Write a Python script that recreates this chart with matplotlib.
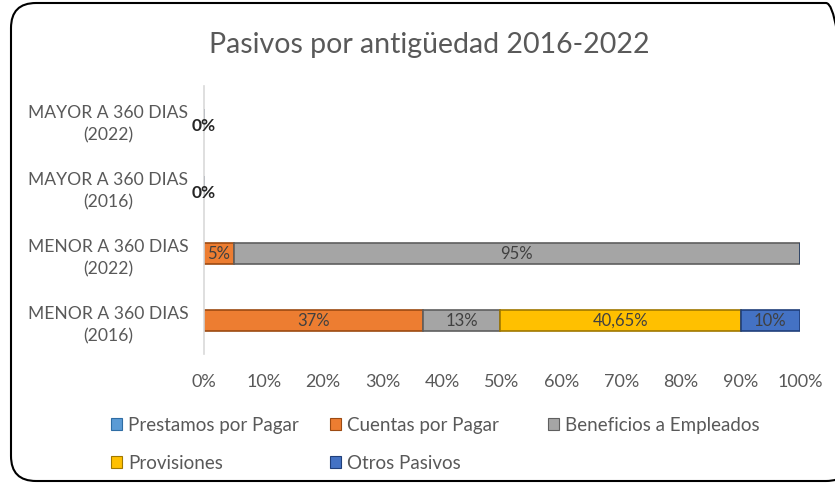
import numpy as np
import matplotlib.pyplot as plt
from matplotlib.patches import FancyBboxPatch, Patch

plt.rcParams['font.family'] = ['Lato', 'DejaVu Sans']

categorias = ['MENOR A 360 DIAS\n(2016)', 'MENOR A 360 DIAS\n(2022)',
              'MAYOR A 360 DIAS\n(2016)', 'MAYOR A 360 DIAS\n(2022)']
series = ['Prestamos por Pagar', 'Cuentas por Pagar', 'Beneficios a Empleados',
          'Provisiones', 'Otros Pasivos']
colores = ['#5B9BD5', '#ED7D31', '#A5A5A5', '#FFC000', '#4472C4']
bordes = ['#2E6DA4', '#9C4A12', '#5F5F5F', '#A07800', '#203F7A']

prestamos = [0, 0, 0, 0]
cuentas = [37, 5, 0, 0]
beneficios = [13, 95, 0, 0]
provisiones = [40.65, 0, 0, 0]
otros = [10, 0, 0, 0]
etiquetas = [
    ['', '37%', '13%', '40,65%', '10%'],
    ['', '5%', '95%', '', ''],
    ['0%', '', '', '', ''],
    ['0%', '', '', '', ''],
]

datos = np.array([prestamos, cuentas, beneficios, provisiones, otros], dtype=float)
totales = datos.sum(axis=0)
frac = np.divide(datos, totales, out=np.zeros_like(datos), where=totales > 0)

fig = plt.figure(figsize=(8.35, 4.86), dpi=100)
ax = fig.add_axes([204 / 835, 1 - 354 / 486, 596 / 835, 268 / 486])

y = np.arange(len(categorias))
izq = np.zeros(len(categorias))
for i in range(len(series)):
    ax.barh(y, frac[i], left=izq, height=0.30, color=colores[i],
            edgecolor=bordes[i], linewidth=1.2)
    for j in range(len(categorias)):
        txt = etiquetas[j][i]
        if not txt:
            continue
        if totales[j] > 0:
            ax.text(izq[j] + frac[i][j] / 2, y[j], txt,
                    ha='center', va='center', fontsize=12, color='#404040')
        else:
            ax.text(0.0, y[j] - 0.09, txt, ha='center', va='center', fontsize=12.5,
                    color='#262626', fontweight='bold', clip_on=False)
    izq += frac[i]

ax.set_xlim(0, 1)
ax.set_ylim(-0.5, len(categorias) - 0.5)
ax.set_xticks(np.linspace(0, 1, 11))
ax.set_xticklabels([f'{int(v)}%' for v in np.linspace(0, 100, 11)])
ax.set_yticks(y)
ax.set_yticklabels(categorias, ha='center', linespacing=1.45)
ax.tick_params(axis='y', length=0, pad=69, labelsize=12.6, labelcolor='#595959')
ax.tick_params(axis='x', length=0, pad=14.5, labelsize=13, labelcolor='#595959')
for s in ['top', 'right', 'bottom']:
    ax.spines[s].set_visible(False)
ax.spines['left'].set_color('#D9D9D9')
ax.spines['left'].set_linewidth(1.2)

fig.text(429 / 835, 1 - 45 / 486, 'Pasivos por antigüedad 2016-2022', ha='center',
         va='center', fontsize=20.5, color='#595959')

# legend: Excel uses equal-width columns, so one small legend per column
handles = [Patch(facecolor=colores[i], edgecolor=bordes[i], linewidth=0.8) for i in range(5)]
columnas = [[0, 3], [1, 4], [2]]
x_col = [111, 330, 548]
for col, xc in zip(columnas, x_col):
    fig.legend([handles[k] for k in col], [series[k] for k in col],
               loc='upper left', bbox_to_anchor=(xc / 835, 1 - 417 / 486),
               frameon=False, fontsize=13.5, labelcolor='#595959',
               handlelength=0.6, handleheight=0.6, handletextpad=0.3,
               labelspacing=1.1, borderpad=0, borderaxespad=0)

borde = FancyBboxPatch((11 / 835, 5 / 486), 840 / 835, 478 / 486,
                       boxstyle='round,pad=0,rounding_size=0.03',
                       transform=fig.transFigure, fill=False, edgecolor='black',
                       linewidth=1.5, mutation_aspect=835 / 486)
fig.patches.append(borde)

fig.savefig('out.png', dpi=100)
